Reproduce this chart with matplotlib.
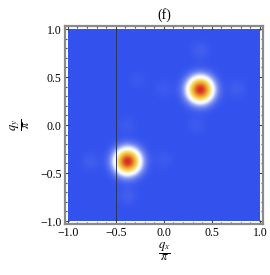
import numpy as np
import matplotlib
matplotlib.use("Agg")
import matplotlib.pyplot as plt
from matplotlib.colors import LinearSegmentedColormap
from matplotlib.ticker import MultipleLocator

# peaks of the structure factor (q / pi units)
peak_qx = [0.38, -0.38]
peak_qy = [0.37, -0.38]
peak_amp = [1.0, 1.0]
peak_sigma = [0.085, 0.085]

# faint side spots
side_qx = [0.38, 0.76, 0.0, 0.34, -0.38, -0.77, 0.0, -0.39, -0.28]
side_qy = [0.78, 0.38, 0.38, 0.0, -0.74, -0.38, -0.36, 0.0, 0.47]
side_amp = [0.022, 0.02, 0.016, 0.016, 0.022, 0.02, 0.016, 0.016, 0.012]
side_sigma = 0.07

cut_qx = -0.5
ticks = [-1.0, -0.5, 0.0, 0.5, 1.0]

q = np.linspace(-1, 1, 301)
QX, QY = np.meshgrid(q, q)
S = np.zeros_like(QX)
for x0, y0, a, s in zip(peak_qx, peak_qy, peak_amp, peak_sigma):
    S += a * np.exp(-((QX - x0) ** 2 + (QY - y0) ** 2) / (2 * s ** 2))
for x0, y0, a in zip(side_qx, side_qy, side_amp):
    S += a * np.exp(-((QX - x0) ** 2 + (QY - y0) ** 2) / (2 * side_sigma ** 2))

cmap = LinearSegmentedColormap.from_list(
    "bwyr",
    [(0.0, "#3352ee"), (0.1, "#7f93f2"), (0.22, "#e8ecff"), (0.32, "#ffffff"),
     (0.5, "#f6e060"), (0.72, "#f0a030"), (1.0, "#d62a22")])

plt.rcParams["font.family"] = "Liberation Serif"
plt.rcParams["mathtext.fontset"] = "stix"

fig = plt.figure(figsize=(2.7, 2.75), dpi=100)
ax = fig.add_axes([0.239, 0.184, 0.736, 0.7225])
ax.imshow(S, extent=[-1, 1, -1, 1], origin="lower", cmap=cmap,
          vmin=0, vmax=1, interpolation="bilinear", aspect="auto")
ax.axvline(cut_qx, ymin=0.017, ymax=0.983, color="#2a3560", lw=0.7)

ax.set_xlim(-1.035, 1.035)
ax.set_ylim(-1.035, 1.035)
ax.set_xticks(ticks)
ax.set_yticks(ticks)
ax.set_xticklabels(["\u22121.0", "\u22120.5", "0.0", "0.5", "1.0"])
ax.set_yticklabels(["\u22121.0", "\u22120.5", "0.0", "0.5", "1.0"])
ax.xaxis.set_minor_locator(MultipleLocator(0.1))
ax.yaxis.set_minor_locator(MultipleLocator(0.1))
ax.tick_params(which="both", direction="in", top=True, right=True,
               color="#444444", width=0.8, labelsize=8.5, pad=2)
ax.tick_params(which="major", length=3)
ax.tick_params(which="minor", length=1.2)
for sp in ax.spines.values():
    sp.set_color("#8a8a8a")
    sp.set_linewidth(1.6)

ax.set_title("(f)", fontsize=10, pad=5)
ax.set_xlabel(r"$\dfrac{q_x}{\pi}$", fontsize=9, labelpad=1)
ax.set_ylabel(r"$\dfrac{q_y}{\pi}$", fontsize=9, labelpad=6)

fig.savefig("out.png", dpi=100)
